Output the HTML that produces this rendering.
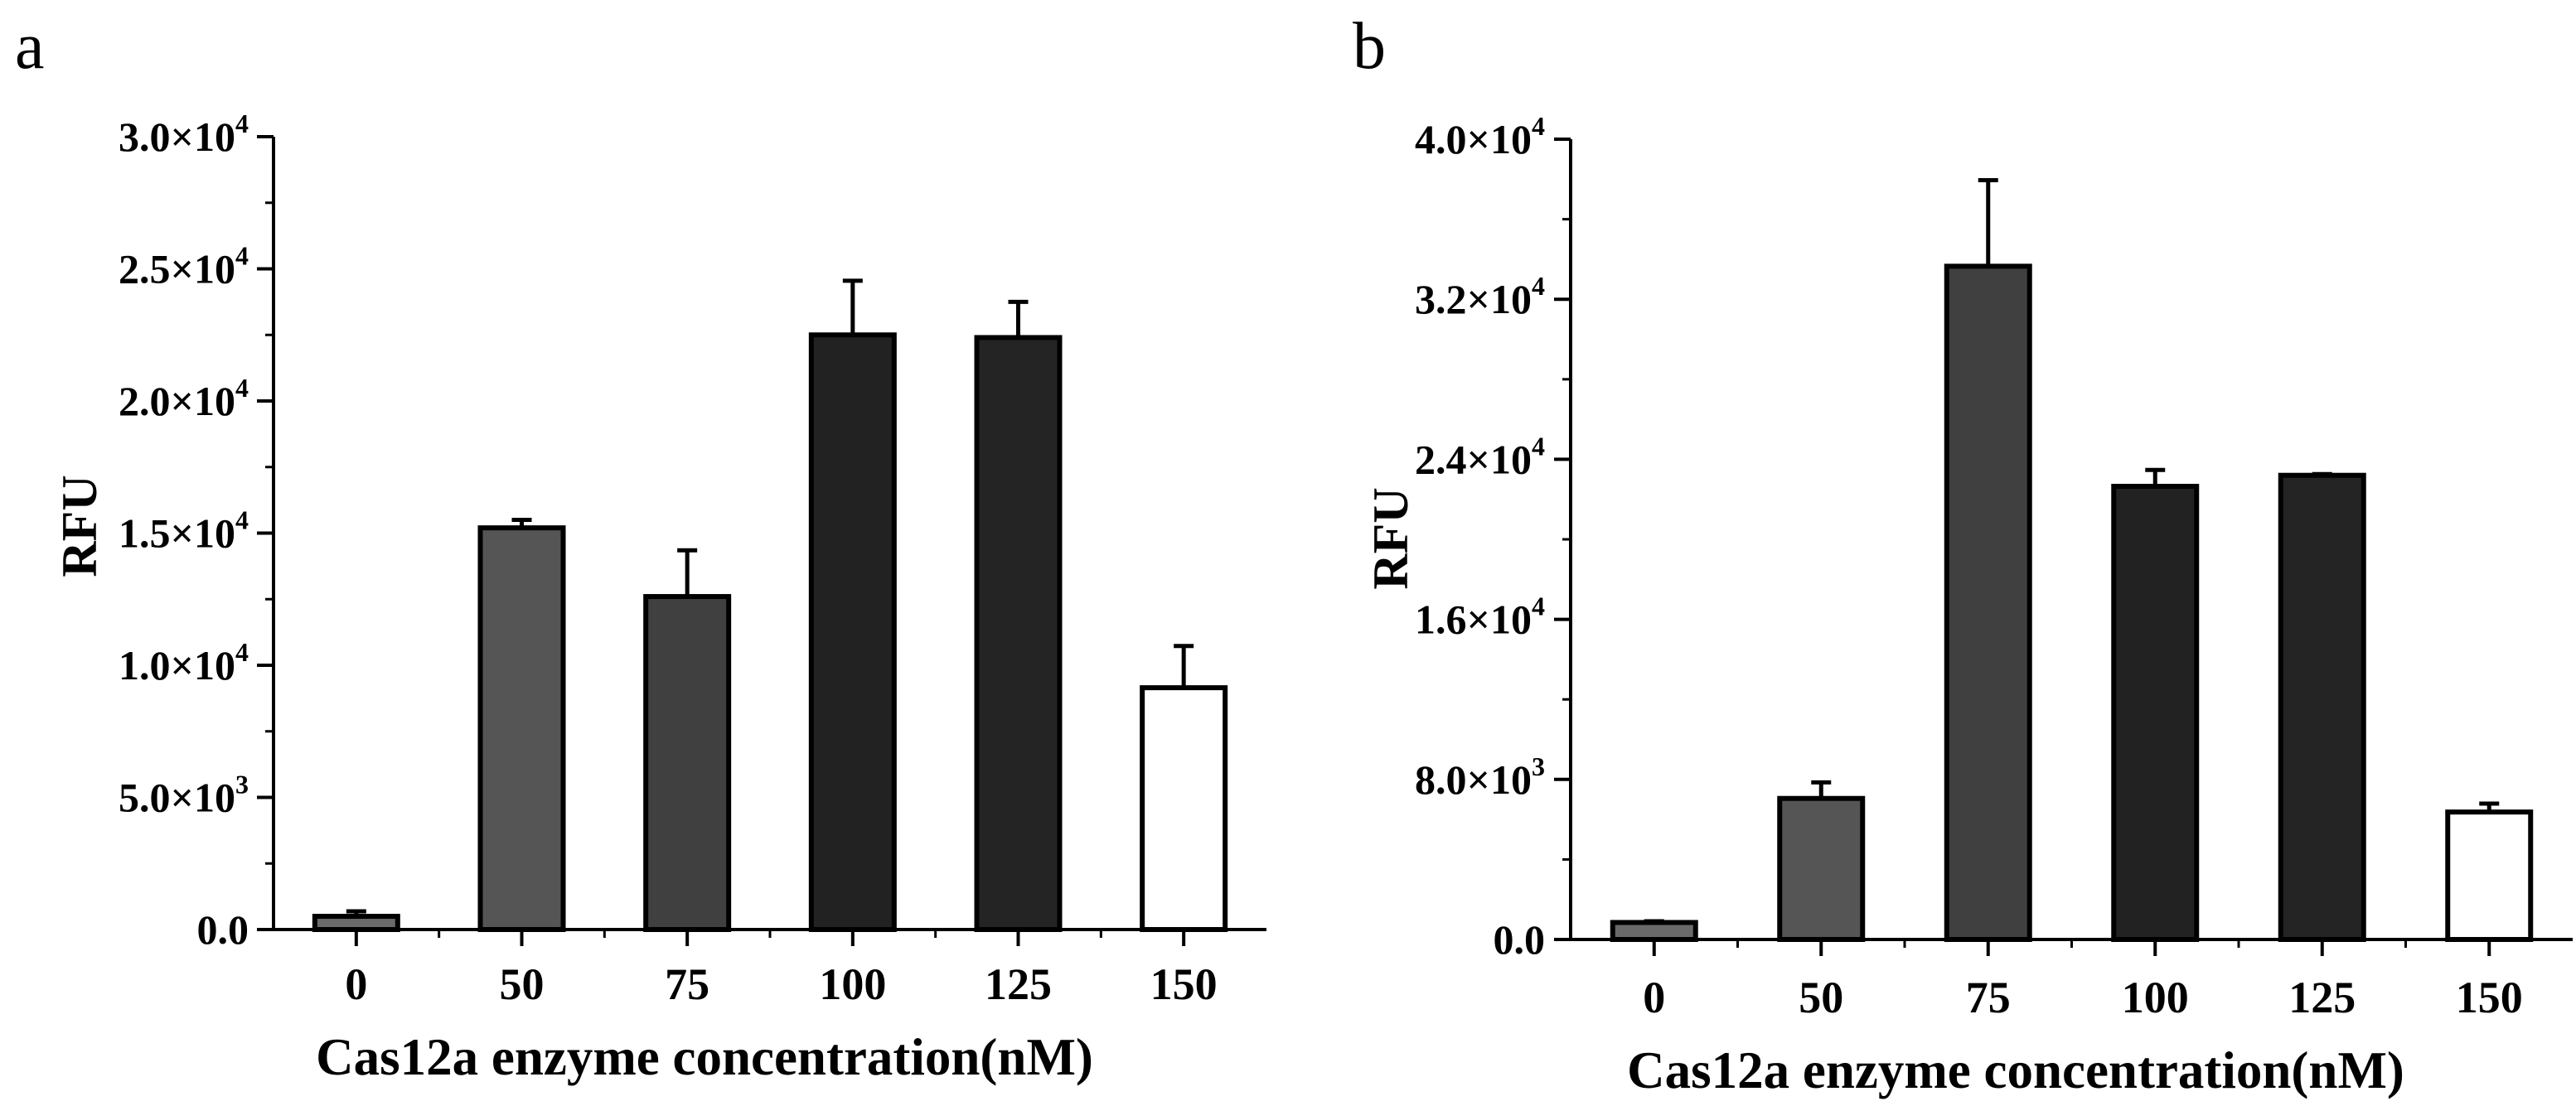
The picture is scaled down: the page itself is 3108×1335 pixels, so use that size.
<!DOCTYPE html>
<html><head><meta charset="utf-8"><style>
html,body{margin:0;padding:0;background:#fff;}
svg{display:block;}
text{font-family:"Liberation Serif",serif;fill:#000;}
</style></head><body>
<svg id="fig" width="3108" height="1335" viewBox="0 0 3108 1335">
<text x="18" y="82" font-size="80">a</text>
<text x="1632" y="82" font-size="80">b</text>
</svg>
<script>
const categories = ["0","50","75","100","125","150"];
const valuesA = [500, 15200, 12600, 22500, 22400, 9150];
const errorsA = [190, 300, 1750, 2050, 1350, 1580];
const valuesB = [850, 7050, 33650, 22650, 23200, 6370];
const errorsB = [60, 800, 4300, 820, 60, 420];
const ticksA = [0, 5000, 10000, 15000, 20000, 25000, 30000];
const tickLabelsA = [["0.0",""],["5.0×10","3"],["1.0×10","4"],["1.5×10","4"],["2.0×10","4"],["2.5×10","4"],["3.0×10","4"]];
const ticksB = [0, 8000, 16000, 24000, 32000, 40000];
const tickLabelsB = [["0.0",""],["8.0×10","3"],["1.6×10","4"],["2.4×10","4"],["3.2×10","4"],["4.0×10","4"]];
const fills = ["#6a6a6a","#555555","#404040","#222222","#242424","#ffffff"];

const NS = "http://www.w3.org/2000/svg";
const svg = document.getElementById("fig");
function mk(tag, attrs, parent){
  const e = document.createElementNS(NS, tag);
  for (const k in attrs) e.setAttribute(k, attrs[k]);
  (parent||svg).appendChild(e);
  return e;
}

function drawChart(id, cfg, vals, errs, ticks, tickLabels){
  const g = mk("g", {});
  
  
  const yMax = ticks[ticks.length-1];
  const yS = v => cfg.y0 - (v / yMax) * (cfg.y0 - cfg.yTop);
  const band = (cfg.x1 - cfg.x0) / categories.length;
  const xS = i => cfg.x0 + band * (i + 0.5);

  vals.forEach((v, i) => {
    const cx = xS(i), top = yS(v), bw = 100;
    const b = mk("rect", {x: cx - bw/2, y: top, width: bw, height: cfg.y0 - top, fill: fills[i], stroke: "#000", "stroke-width": 6}, g);
    
    
    const et = yS(v + errs[i]);
    const e = mk("path", {d: `M${cx} ${top} V${et} M${cx-12} ${et} H${cx+12}`, stroke: "#000", "stroke-width": 5, fill: "none"}, g);
    
    
  });

  const ax = mk("path", {d: `M${cfg.x0} ${cfg.yTop} V${cfg.y0} H${cfg.x1}`, stroke: "#000", "stroke-width": 4, fill: "none"}, g);
  
  

  ticks.forEach((t, i) => {
    const y = yS(t);
    mk("line", {x1: cfg.x0 - 20, x2: cfg.x0, y1: y, y2: y, stroke: "#000", "stroke-width": 4}, g);
    if (i < ticks.length - 1) {
      const ym = yS((t + ticks[i+1]) / 2);
      mk("line", {x1: cfg.x0 - 10, x2: cfg.x0, y1: ym, y2: ym, stroke: "#000", "stroke-width": 3}, g);
    }
    const tx = mk("text", {x: cfg.labelRight, y: y + 17, "font-size": 50, "font-weight": "bold", "text-anchor": "end"}, g);
    
    
    tx.textContent = tickLabels[i][0];
    if (tickLabels[i][1]) {
      const sp = mk("tspan", {dy: -22, "font-size": 32}, tx);
      sp.textContent = tickLabels[i][1];
    }
  });

  categories.forEach((c, i) => {
    const x = xS(i);
    mk("line", {x1: x, x2: x, y1: cfg.y0, y2: cfg.y0 + 20, stroke: "#000", "stroke-width": 4}, g);
    const xb = cfg.x0 + band * (i + 1);
    if (i < categories.length - 1) mk("line", {x1: xb, x2: xb, y1: cfg.y0, y2: cfg.y0 + 10, stroke: "#000", "stroke-width": 3}, g);
    const tx = mk("text", {x: x, y: cfg.xLabelY, "font-size": 54, "font-weight": "bold", "text-anchor": "middle"}, g);
    
    
    tx.textContent = c;
  });

  const xt = mk("text", {x: cfg.xTitleX, y: cfg.xTitleY, "font-size": 63, "font-weight": "bold", "text-anchor": "middle"}, g);
  
  
  xt.textContent = "Cas12a enzyme concentration(nM)";

  const yt = mk("text", {x: 0, y: 0, "font-size": 60, "font-weight": "bold", "text-anchor": "middle", transform: `translate(${cfg.yTitleX},${cfg.yTitleY}) rotate(-90)`}, g);
  
  
  yt.textContent = "RFU";
}

drawChart("chart-a", {x0: 330, x1: 1528, y0: 1122, yTop: 165, labelRight: 300, xLabelY: 1206, xTitleX: 850, xTitleY: 1297, yTitleX: 116, yTitleY: 635},
  valuesA, errorsA, ticksA, tickLabelsA);
drawChart("chart-b", {x0: 1895, x1: 3104, y0: 1134, yTop: 168, labelRight: 1864, xLabelY: 1222, xTitleX: 2432, xTitleY: 1313, yTitleX: 1698, yTitleY: 650},
  valuesB, errorsB, ticksB, tickLabelsB);
</script>
</body></html>
